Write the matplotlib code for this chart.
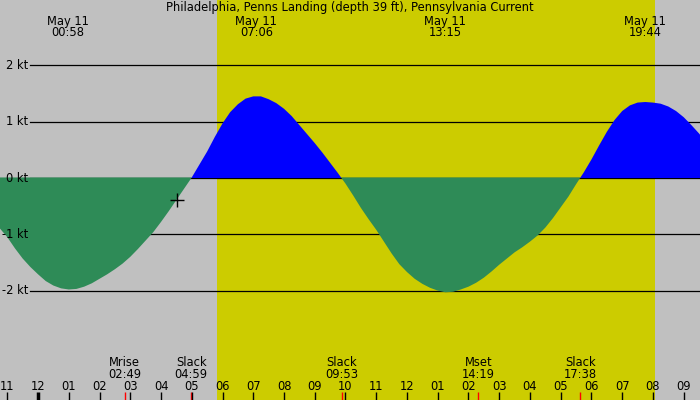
import matplotlib
matplotlib.use("Agg")
import matplotlib.pyplot as plt
import matplotlib.transforms as mtransforms
import numpy as np

#------------------------------------------------------------------------------
# Data (hours from May 11 00:00, current in knots)
#------------------------------------------------------------------------------
hours = [-1.5, -1.25, -1.0, -0.75, -0.5, -0.25, 0.0, 0.25, 0.5, 0.75,
         1.0, 1.25, 1.5, 1.75, 2.0, 2.25, 2.5, 2.75, 3.0, 3.25,
         3.5, 3.75, 4.0, 4.25, 4.5, 4.75, 5.0, 5.25, 5.5, 5.75,
         6.0, 6.25, 6.5, 6.75, 7.0, 7.25, 7.5, 7.75, 8.0, 8.25,
         8.5, 8.75, 9.0, 9.25, 9.5, 9.75, 10.0, 10.25, 10.5, 10.75,
         11.0, 11.25, 11.5, 11.75, 12.0, 12.25, 12.5, 12.75, 13.0, 13.25,
         13.5, 13.75, 14.0, 14.25, 14.5, 14.75, 15.0, 15.25, 15.5, 15.75,
         16.0, 16.25, 16.5, 16.75, 17.0, 17.25, 17.5, 17.75, 18.0, 18.25,
         18.5, 18.75, 19.0, 19.25, 19.5, 19.75, 20.0, 20.25, 20.5, 20.75,
         21.0, 21.25, 21.5, 21.75, 22.0]
current = [-0.73, -0.89, -1.05, -1.25, -1.43, -1.58, -1.71, -1.83, -1.91, -1.96,
           -1.98, -1.97, -1.93, -1.87, -1.79, -1.71, -1.62, -1.52, -1.40, -1.26,
           -1.11, -0.96, -0.78, -0.59, -0.39, -0.19, 0.01, 0.24, 0.47, 0.73,
           0.97, 1.17, 1.31, 1.41, 1.45, 1.45, 1.40, 1.33, 1.23, 1.10,
           0.94, 0.78, 0.62, 0.45, 0.27, 0.09, -0.10, -0.31, -0.53, -0.73,
           -0.92, -1.13, -1.34, -1.53, -1.67, -1.79, -1.88, -1.95, -2.00, -2.03,
           -2.02, -1.98, -1.93, -1.86, -1.77, -1.66, -1.54, -1.43, -1.32, -1.23,
           -1.13, -1.02, -0.88, -0.71, -0.52, -0.33, -0.11, 0.10, 0.33, 0.58,
           0.82, 1.03, 1.19, 1.29, 1.34, 1.35, 1.34, 1.32, 1.27, 1.19,
           1.08, 0.94, 0.79, 0.62, 0.45]

grid_kt = [2, 1, 0, -1, -2]
grid_labels = ["2 kt", "1 kt", "0 kt", "-1 kt", "-2 kt"]

sunrise = 5.82
sunset = 20.08

top_times = [0.967, 7.1, 13.25, 19.733]
top_labels = ["00:58", "07:06", "13:15", "19:44"]

bottom_times = [2.817, 4.983, 9.883, 14.317, 17.633]
bottom_names = ["Mrise", "Slack", "Slack", "Mset", "Slack"]
bottom_labels = ["02:49", "04:59", "09:53", "14:19", "17:38"]

now_time = 4.52
now_current = -0.39

tick_hours = list(range(-1, 22))

#------------------------------------------------------------------------------
# Plot
#------------------------------------------------------------------------------
t = np.array(hours)
v = np.array(current)

fig = plt.figure(figsize=(7, 4), dpi=100, facecolor="#c0c0c0")
ax = fig.add_axes([0, 0, 1, 1])
ax.set_xlim(-1.237, 21.53)
ax.set_ylim(-3.943, 3.162)
ax.axis("off")

ax.axvspan(sunrise, sunset, color="#cccc00", zorder=1, lw=0)

for k in grid_kt:
    ax.axhline(k, xmin=30 / 700, xmax=1, color="black", lw=0.9, zorder=2)

ax.fill_between(t, v, 0, where=v >= 0, interpolate=True,
                color="#0000ff", lw=0, zorder=3)
ax.fill_between(t, v, 0.01, where=v <= 0, interpolate=True,
                color="#2e8b57", lw=0, zorder=3)

ax.plot([now_time], [now_current], marker="+", color="black",
        markersize=10, mew=1, zorder=5)

# pixel-based y placement (figure is 400 px tall)
trans = mtransforms.blended_transform_factory(ax.transData, ax.transAxes)
def py(p):
    return 1 - p / 400.0

fs = 8.3
for k, lab in zip(grid_kt, grid_labels):
    ax.text(28 / 700, k, lab, transform=mtransforms.blended_transform_factory(
        ax.transAxes, ax.transData), ha="right", va="center", fontsize=fs,
        zorder=6)

ax.text(0.5, py(11.5), "Philadelphia, Penns Landing (depth 39 ft), Pennsylvania Current",
        transform=ax.transAxes, ha="center", va="baseline", fontsize=fs)

for tt, lab in zip(top_times, top_labels):
    ax.text(tt, py(25), "May 11", transform=trans, ha="center",
            va="baseline", fontsize=fs, zorder=6)
    ax.text(tt, py(36.5), lab, transform=trans, ha="center",
            va="baseline", fontsize=fs, zorder=6)

for tt, name, lab in zip(bottom_times, bottom_names, bottom_labels):
    ax.text(tt, py(366.5), name, transform=trans, ha="center",
            va="baseline", fontsize=fs, zorder=6)
    ax.text(tt, py(378), lab, transform=trans, ha="center",
            va="baseline", fontsize=fs, zorder=6)
    ax.plot([tt, tt], [py(392), py(400)], transform=trans, color="red",
            lw=1, zorder=6, solid_capstyle="butt")

for h in tick_hours:
    hh = h % 12
    if hh == 0:
        hh = 12
    ax.text(h, py(390), "%02d" % hh, transform=trans, ha="center",
            va="baseline", fontsize=fs, zorder=6)
    ax.plot([h, h], [py(392), py(400)], transform=trans, color="black",
            lw=2.5 if h % 24 == 0 else 1, zorder=6, solid_capstyle="butt")

fig.savefig("out.png", dpi=100, facecolor=fig.get_facecolor())
